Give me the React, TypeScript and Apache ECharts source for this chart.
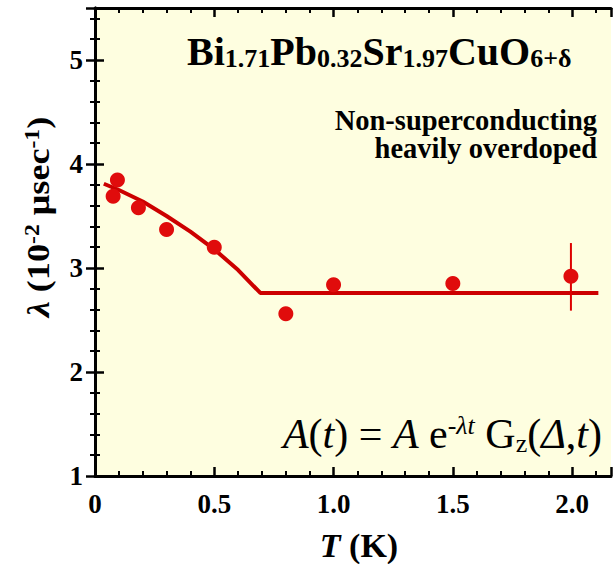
import React, { useEffect, useRef } from "react";
import * as echarts from "echarts";

// Measured points: temperature T (K) and relaxation rate λ (10^-2 μsec^-1)
const tempK = [0.076, 0.094, 0.182, 0.3, 0.5, 0.8, 1.0, 1.5, 1.995];
const lambdaVals = [3.69, 3.846, 3.58, 3.37, 3.2, 2.56, 2.84, 2.85, 2.92];

// Error bar on the 2.0 K point
const errT = [1.995, 1.995];
const errLambda = [2.59, 3.24];

// Fit curve
const fitT = [0.037, 0.1, 0.2, 0.3, 0.4, 0.5, 0.6, 0.693, 2.11];
const fitLambda = [3.81, 3.75, 3.64, 3.5, 3.35, 3.18, 2.98, 2.76, 2.76];

const xTicks = [0, 0.5, 1.0, 1.5, 2.0];
const yTicks = [1, 2, 3, 4, 5];

const SERIF = "Liberation Serif";

export default function App() {
  const ref = useRef<HTMLDivElement>(null);
  useEffect(() => {
    if (!ref.current) return;
    const chart = echarts.init(ref.current, null, { renderer: "svg" });
    const axisLine = { show: true, lineStyle: { color: "#000", width: 3 } };
    const axisTick = { show: true, inside: true, length: 9, lineStyle: { color: "#000", width: 2.5 } };
    const minorTick = { show: true, splitNumber: 5, length: 5, lineStyle: { color: "#000", width: 2 } };
    const near = (v: number, arr: number[]) => arr.some((t) => Math.abs(t - v) < 1e-6);
    const option: any = {
      animation: false,
      backgroundColor: "#ffffff",
      textStyle: { fontFamily: SERIF },
      grid: {
        left: 95,
        top: 8,
        right: -1,
        bottom: 88,
        show: true,
        backgroundColor: "#fefee0",
        borderWidth: 0,
      },
      xAxis: [
        {
          type: "value",
          min: 0,
          max: 2.163,
          interval: 0.5,
          position: "bottom",
          axisLine,
          axisTick,
          minorTick,
          splitLine: { show: false },
          axisLabel: {
            margin: 14,
            fontFamily: SERIF,
            fontWeight: "bold",
            fontSize: 27,
            color: "#000",
            formatter: (v: number) => (near(v, xTicks) ? (v === 0 ? "0" : v.toFixed(1)) : ""),
          },
        },
        {
          type: "value",
          min: 0,
          max: 2.163,
          interval: 0.5,
          position: "top",
          axisLine,
          axisTick,
          minorTick,
          splitLine: { show: false },
          axisLabel: { show: false },
        },
      ],
      yAxis: [
        {
          type: "value",
          min: 1,
          max: 5.5,
          interval: 1,
          position: "left",
          axisLine,
          axisTick,
          minorTick,
          splitLine: { show: false },
          axisLabel: {
            margin: 12,
            fontFamily: SERIF,
            fontWeight: "bold",
            fontSize: 27,
            color: "#000",
            formatter: (v: number) => (near(v, yTicks) ? String(v) : ""),
          },
        },
        {
          type: "value",
          min: 1,
          max: 5.5,
          interval: 1,
          position: "right",
          axisLine,
          axisTick,
          minorTick,
          splitLine: { show: false },
          axisLabel: { show: false },
        },
      ],
      series: [
        {
          type: "line",
          data: fitT.map((t, i) => [t, fitLambda[i]]),
          showSymbol: false,
          symbol: "none",
          lineStyle: { color: "#cc0000", width: 4 },
          z: 2,
        },
        {
          type: "line",
          data: errT.map((t, i) => [t, errLambda[i]]),
          showSymbol: false,
          symbol: "none",
          lineStyle: { color: "#dd0000", width: 2 },
          z: 3,
        },
        {
          type: "scatter",
          data: tempK.map((t, i) => [t, lambdaVals[i]]),
          symbol: "circle",
          symbolSize: 15,
          itemStyle: { color: "#e00c0c", opacity: 1 },
          z: 4,
        },
      ],
      graphic: [
        {
          type: "text",
          x: 187,
          y: 31,
          z: 10,
          style: {
            text: "{m|Bi}{s|1.71}{m|Pb}{s|0.32}{m|Sr}{s|1.97}{m|CuO}{s|6+δ}",
            rich: {
              m: { fontFamily: SERIF, fontWeight: "bold", fontSize: 40, lineHeight: 40, fill: "#000" },
              s: { fontFamily: SERIF, fontWeight: "bold", fontSize: 26, lineHeight: 16, verticalAlign: "bottom", fill: "#000" },
            },
          },
        },
        {
          type: "text",
          x: 597,
          y: 106,
          z: 10,
          style: {
            text: "Non-superconducting\nheavily overdoped",
            fontFamily: SERIF,
            fontWeight: "bold",
            fontSize: 28.5,
            lineHeight: 28,
            align: "right",
            fill: "#000",
          },
        },
        {
          type: "text",
          x: 602,
          y: 412,
          z: 10,
          style: {
            align: "right",
            text: "{i|A}{n|(}{i|t}{n|) = }{i|A}{n| e}{p|-}{pi|λt}{n| G}{b|z}{n|(}{i|Δ}{n|,}{i|t}{n|)}",
            rich: {
              n: { fontFamily: SERIF, fontSize: 42, lineHeight: 44, fill: "#000" },
              i: { fontFamily: SERIF, fontSize: 42, lineHeight: 44, fontStyle: "italic", fill: "#000" },
              p: { fontFamily: SERIF, fontSize: 26, lineHeight: 14, verticalAlign: "top", fill: "#000" },
              pi: { fontFamily: SERIF, fontSize: 26, lineHeight: 14, verticalAlign: "top", fontStyle: "italic", fill: "#000" },
              b: { fontFamily: SERIF, fontSize: 26, lineHeight: 10, verticalAlign: "bottom", fill: "#000" },
            },
          },
        },
        {
          type: "text",
          x: 38,
          y: 217,
          rotation: Math.PI / 2,
          scaleX: 1.13,
          z: 10,
          style: {
            align: "center",
            verticalAlign: "middle",
            text: "{gi|λ}{b| (10}{p|-2}{b| μsec}{p|-1}{b|)}",
            rich: {
              gi: { fontFamily: SERIF, fontWeight: "bold", fontStyle: "italic", fontSize: 32, lineHeight: 34, fill: "#000" },
              b: { fontFamily: SERIF, fontWeight: "bold", fontSize: 32, lineHeight: 34, fill: "#000" },
              p: { fontFamily: SERIF, fontWeight: "bold", fontSize: 21, lineHeight: 12, verticalAlign: "top", fill: "#000" },
            },
          },
        },
        {
          type: "text",
          x: 359,
          y: 545,
          z: 10,
          style: {
            align: "center",
            verticalAlign: "middle",
            text: "{ti|T}{b| (K)}",
            rich: {
              ti: { fontFamily: SERIF, fontWeight: "bold", fontStyle: "italic", fontSize: 34, fill: "#000" },
              b: { fontFamily: SERIF, fontWeight: "bold", fontSize: 34, fill: "#000" },
            },
          },
        },
      ],
    };
    chart.setOption(option);
    return () => chart.dispose();
  }, []);
  return <div ref={ref} style={{ width: 614, height: 564, position: "absolute", left: 0, top: 0 }} />;
}
